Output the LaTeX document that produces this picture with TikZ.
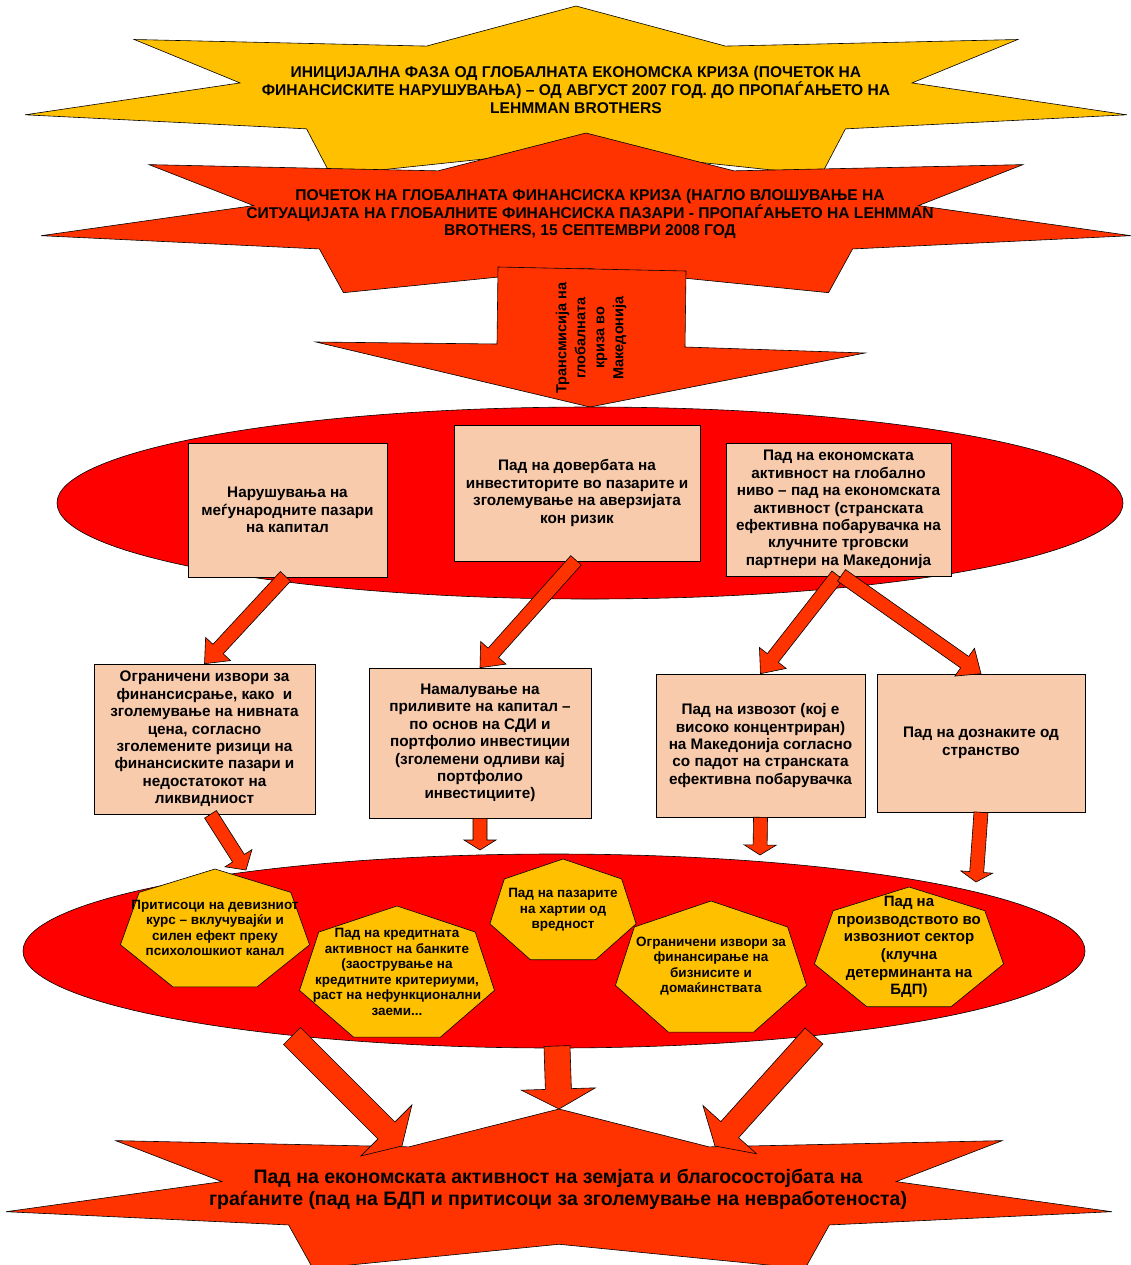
\documentclass[tikz,border=0pt]{standalone}
\usepackage{fontspec}
\setmainfont{Liberation Sans}
\usetikzlibrary{calc}
\definecolor{gold}{HTML}{FFC000}
\definecolor{starred}{HTML}{FF3300}
\definecolor{ellred}{HTML}{FF0000}
\definecolor{boxfill}{HTML}{F8CBAD}
\definecolor{arrowred}{HTML}{FF3300}
\newcommand{\fsz}[2]{\fontsize{#1bp}{#2bp}\selectfont\bfseries}
\tikzset{
  shapeline/.style={draw=black, line width=0.6bp, line join=miter},
  goldstar/.style={shapeline, fill=gold},
  redstar/.style={shapeline, fill=starred},
  bigell/.style={shapeline, fill=ellred},
  boxstyle/.style={shapeline, fill=boxfill, align=center, inner sep=0pt, font=\fsz{15.3}{17.4}},
  blockarrow/.style={shapeline, fill=arrowred},
  heptstyle/.style={shapeline, fill=gold},
  startext/.style={align=center, inner sep=0pt, font=\fsz{15.6}{17.6}},
  hepttext/.style={align=center, inner sep=0pt, font=\fsz{13.5}{15.5}},
}
% 7-point star: cx cy rx ry style
\newcommand{\starseven}[5]{%
  \filldraw[#5] ($(#1,#2)+(-90:#3 and #4)$)
  \foreach \k [evaluate=\k as \a using -90-\k*25.7142857,
               evaluate=\k as \fx using {mod(\k,2)==1 ? 0.61*#3 : #3},
               evaluate=\k as \fy using {mod(\k,2)==1 ? 0.61*#4 : #4}] in {1,...,13}
    { -- ($(#1,#2)+(\a:{\fx} and {\fy})$) } -- cycle;}
% heptagon: cx cy rx ry
\newcommand{\heptagon}[4]{%
  \filldraw[heptstyle] ($(#1,#2)+(270:#3 and #4)$)
  \foreach \k [evaluate=\k as \a using 270+\k*51.4285714] in {1,...,6}
    { -- ($(#1,#2)+(\a:#3 and #4)$) } -- cycle;}
% block arrow: from, to, half shaft, half head, head length
\newcommand{\barrow}[5]{%
  \coordinate (ba-h) at ($(#2)!#5!(#1)$);
  \filldraw[blockarrow] ($(#1)!#3!90:(#2)$) -- ($(ba-h)!#3!90:(#2)$) -- ($(ba-h)!#4!90:(#2)$)
    -- (#2) -- ($(ba-h)!#4!-90:(#2)$) -- ($(ba-h)!#3!-90:(#2)$) -- ($(#1)!#3!-90:(#2)$) -- cycle;}
\begin{document}
\begin{tikzpicture}[x=1bp,y=-1bp]
\useasboundingbox (0,0) rectangle (1131,1265);
\clip (0,0) rectangle (1131,1265);

% top stars
\starseven{576}{95}{565}{89}{goldstar}
\node[startext] (t1) at (576,90) {ИНИЦИЈАЛНА ФАЗА ОД ГЛОБАЛНАТА ЕКОНОМСКА КРИЗА (ПОЧЕТОК НА\\ФИНАНСИСКИТЕ НАРУШУВАЊА) – ОД АВГУСТ 2007 ГОД. ДО ПРОПАЃАЊЕТО НА\\LEHMMAN BROTHERS};
\starseven{586}{217}{559}{84}{redstar}
\node[startext] (t2) at (590,214) {ПОЧЕТОК НА ГЛОБАЛНАТА ФИНАНСИСКА КРИЗА (НАГЛО ВЛОШУВАЊЕ НА\\СИТУАЦИЈАТА НА ГЛОБАЛНИТЕ ФИНАНСИСКА ПАЗАРИ - ПРОПАЃАЊЕТО НА LEHMMAN\\BROTHERS, 15 СЕПТЕМВРИ 2008 ГОД};

% transmission arrow
\filldraw[blockarrow] (498,267) -- (686,271) -- (685,347) -- (865,353) -- (590,407) -- (316,342) -- (497,344) -- cycle;
\node[rotate=90, align=center, inner sep=0pt, font=\fsz{14.5}{19}] (trans) at (591,338) {Трансмисија на\\глобалната\\криза во\\Македонија};

% first ellipse and boxes
\filldraw[bigell] (590,503) ellipse [x radius=533bp, y radius=96bp];
\node[boxstyle, minimum width=199bp, minimum height=134bp] (boxA) at (287.5,510) {Нарушувања на\\меѓународните пазари\\на капитал};
\node[boxstyle, minimum width=246bp, minimum height=136bp] (boxB) at (577,493) {Пад на довербата на\\инвеститорите во пазарите и\\зголемување на аверзијата\\кон ризик};
\node[boxstyle, minimum width=225bp, minimum height=133bp] (boxC) at (838.5,509.5) {Пад на економската\\активност на глобално\\ниво – пад на економската\\активност (странската\\ефективна побарувачка на\\клучните трговски\\партнери на Македонија};

% middle boxes
\node[boxstyle, minimum width=221bp, minimum height=150bp] (boxD) at (204.5,739) {Ограничени извори за\\финансисрање, како\ \ и\\зголемување на нивната\\цена, согласно\\зголемените ризици на\\финансиските пазари и\\недостатокот на\\ликвидниост};
\node[boxstyle, minimum width=222bp, minimum height=150bp] (boxE) at (480,743) {Намалување на\\приливите на капитал –\\по основ на СДИ и\\портфолио инвестиции\\(зголемени одливи кај\\портфолио\\инвестициите)};
\node[boxstyle, minimum width=209bp, minimum height=143bp] (boxF) at (760.5,745.5) {Пад на извозот (кој е\\високо концентриран)\\на Македонија согласно\\со падот на странската\\ефективна побарувачка};
\node[boxstyle, minimum width=208bp, minimum height=138bp] (boxG) at (981,743) {Пад на дознаките од\\странство};

% arrows top row -> middle row
\coordinate (a1s) at ($(boxA.south)+(-2,-1)$);
\coordinate (a2s) at ($(boxB.south)+(-1,-1)$);
\coordinate (a3s) at ($(boxC.south)+(-1,-1)$);
\coordinate (a4s) at ($(boxC.south)+(3,-1)$);
\barrow{a1s}{boxD.north}{7bp}{17bp}{20bp}
\barrow{a2s}{boxE.north}{7bp}{17bp}{20bp}
\barrow{a3s}{boxF.north}{7bp}{17bp}{20bp}
\barrow{a4s}{boxG.north}{7bp}{17bp}{20bp}

% second ellipse
\filldraw[bigell] (554,951) ellipse [x radius=531bp, y radius=97bp];

% arrows middle row -> ellipse
\coordinate (a5s) at ($(boxD.south)+(6,0)$);
\coordinate (a5e) at (246,870);
\coordinate (a6e) at (480,850);
\coordinate (a7e) at (760,855);
\coordinate (a8e) at (976,882);
\barrow{a5s}{a5e}{7bp}{16bp}{14bp}
\barrow{boxE.south}{a6e}{7bp}{16bp}{10bp}
\barrow{boxF.south}{a7e}{7bp}{16bp}{10bp}
\barrow{boxG.south}{a8e}{7bp}{16bp}{10bp}

% heptagons
\heptagon{215}{931}{97}{62}
\node[hepttext] (h1) at (215,928) {Притисоци на девизниот\\курс – вклучувајќи и\\силен ефект преку\\психолошкиот канал};
\heptagon{397}{975}{100}{69}
\node[hepttext] (h2) at (397,972) {Пад на кредитната\\активност на банките\\(заострување на\\кредитните критериуми,\\раст на нефункционални\\заеми...};
\heptagon{563}{912}{75}{53}
\node[hepttext] (h3) at (563,910) {Пад на пазарите\\на хартии од\\вредност};
\heptagon{711}{970}{98}{69}
\node[hepttext] (h4) at (711,966) {Ограничени извори за\\финансирање на\\бизнисите и\\домаќинствата};
\heptagon{909}{950}{97}{63}
\node[hepttext, font=\fsz{15}{17.6}] (h5) at (909,947) {Пад на\\производството во\\извозниот сектор\\(клучна\\детерминанта на\\БДП)};

% bottom star
\starseven{559}{1193}{567}{84}{redstar}
\node[align=center, inner sep=0pt, font=\fsz{19.5}{22}] (t3) at (558,1189) {Пад на економската активност на земјата и благосостојбата на\\граѓаните (пад на БДП и притисоци за зголемување на невработеноста)};

% arrows ellipse -> bottom star
\coordinate (a9s) at (292,1036);
\coordinate (a9e) at (402,1146);
\coordinate (a10s) at (557,1046);
\coordinate (a10e) at (559,1109);
\coordinate (a11s) at (814,1036);
\coordinate (a11e) at (715,1146);
\barrow{a9s}{a9e}{12bp}{36bp}{22bp}
\barrow{a10s}{a10e}{13bp}{37bp}{20bp}
\barrow{a11s}{a11e}{12bp}{36bp}{22bp}
\end{tikzpicture}
\end{document}
